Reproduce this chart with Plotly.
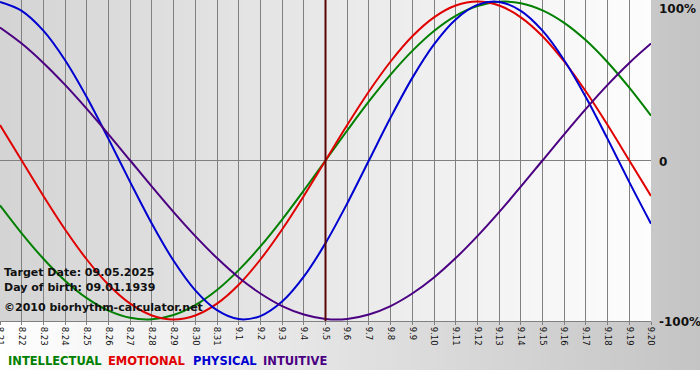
import plotly.graph_objects as go

# ---------------- data ----------------
dates = ["8.21", "8.22", "8.23", "8.24", "8.25", "8.26", "8.27", "8.28", "8.29", "8.30", "8.31",
         "9.1", "9.2", "9.3", "9.4", "9.5", "9.6", "9.7", "9.8", "9.9", "9.10",
         "9.11", "9.12", "9.13", "9.14", "9.15", "9.16", "9.17", "9.18", "9.19", "9.20"]

intellectual = [-28.2, -45.8, -61.8, -75.6, -86.6, -94.5, -99.0, -99.9, -97.2, -91.0, -81.5,
                -69.0, -54.1, -37.2, -18.9, 0.0, 18.9, 37.2, 54.1, 69.0, 81.5,
                91.0, 97.2, 99.9, 99.0, 94.5, 86.6, 75.6, 61.8, 45.8, 28.2]
emotional = [22.3, 0.0, -22.3, -43.4, -62.3, -78.2, -90.1, -97.5, -100.0, -97.5, -90.1,
             -78.2, -62.3, -43.4, -22.3, 0.0, 22.3, 43.4, 62.3, 78.2, 90.1,
             97.5, 100.0, 97.5, 90.1, 78.2, 62.3, 43.4, 22.3, 0.0, -22.3]
physical = [99.8, 94.2, 81.7, 63.1, 39.8, 13.6, -13.6, -39.8, -63.1, -81.7, -94.2,
            -99.8, -97.9, -88.8, -73.1, -52.0, -27.0, 0.0, 27.0, 52.0, 73.1,
            88.8, 97.9, 99.8, 94.2, 81.7, 63.1, 39.8, 13.6, -13.6, -39.8]
intuitive = [83.7, 73.6, 61.4, 47.6, 32.5, 16.5, 0.0, -16.5, -32.5, -47.6, -61.4,
             -73.6, -83.7, -91.6, -96.9, -99.7, -99.7, -96.9, -91.6, -83.7, -73.6,
             -61.4, -47.6, -32.5, -16.5, 0.0, 16.5, 32.5, 47.6, 61.4, 73.6]

series_names = ["INTELLECTUAL", "EMOTIONAL", "PHYSICAL", "INTUITIVE"]
target_date = "9.5"
info_lines = ["Target Date: 09.05.2025", "Day of birth: 09.01.1939", "©2010 biorhythm-calculator.net"]
y_label_vals = [100, 0, -100]
y_label_text = ["100%", "0", "-100%"]

# ---------------- styling ----------------
W, H = 700, 380
ML, MR, MT, MB = 0, 49, 0, 59
PW, PH = W - ML - MR, H - MT - MB
colors = ["#008000", "#e00000", "#0000d0", "#4b0082"]
FONT = "DejaVu Sans"


def px_x(px):
    return (px - ML) / PW


def px_y(py):
    return (MT + PH - py) / PH


fig = go.Figure()

xs = list(range(len(dates)))
for name, vals, col in zip(series_names, [intellectual, emotional, physical, intuitive], colors):
    fig.add_trace(go.Scatter(x=xs, y=vals, mode="lines", name=name,
                             line=dict(color=col, width=2, shape="spline", smoothing=1.0),
                             hoverinfo="skip", showlegend=False, cliponaxis=False))

shapes = []
# canvas gradient (white -> gray), y 0..370
step = 5
for i in range(0, W, step):
    v = round(255 - 59 * (i + step / 2) / W)
    shapes.append(dict(type="rect", xref="paper", yref="paper",
                       x0=px_x(i), x1=px_x(min(i + step + 1, W)),
                       y0=px_y(370), y1=px_y(0),
                       fillcolor=f"rgb({v},{v},{v})", line=dict(width=0), layer="below"))
# plot area gradient (gray -> near white)
for i in range(0, PW, step):
    v = round(212 + 41 * (i + step / 2) / PW)
    shapes.append(dict(type="rect", xref="paper", yref="paper",
                       x0=px_x(i), x1=px_x(min(i + step + 1, PW)),
                       y0=0, y1=1,
                       fillcolor=f"rgb({v},{v},{v})", line=dict(width=0), layer="below"))
# target date line
tx = dates.index(target_date)
shapes.append(dict(type="line", xref="x", yref="paper", x0=tx, x1=tx, y0=0, y1=1,
                   line=dict(color="#5a0505", width=2), layer="above"))

annotations = []
# info text
for txt, py in zip(info_lines, [272, 287, 307]):
    annotations.append(dict(text=f"<b>{txt}</b>", xref="paper", yref="paper",
                            x=px_x(2), y=px_y(py), xanchor="left", yanchor="middle",
                            showarrow=False, font=dict(family=FONT, size=11, color="#111111")))
# right-hand percent labels
for val, txt, ys in zip(y_label_vals, y_label_text, [-7, -1.5, -2.5]):
    annotations.append(dict(text=f"<b>{txt}</b>", xref="paper", yref="y",
                            x=px_x(657), y=val, yshift=ys, xanchor="left", yanchor="middle",
                            showarrow=False, font=dict(family=FONT, size=12, color="#111111")))
# legend labels
for name, col, lx in zip(series_names, colors, [6, 106, 191, 261]):
    annotations.append(dict(text=f"<b>{name}</b>", xref="paper", yref="paper",
                            x=px_x(lx), y=px_y(361), xanchor="left", yanchor="middle",
                            showarrow=False, font=dict(family=FONT, size=11.5, color=col)))

fig.update_layout(
    width=W, height=H,
    margin=dict(l=ML, r=MR, t=MT, b=MB, pad=0, autoexpand=False),
    paper_bgcolor="#ffffff", plot_bgcolor="rgba(0,0,0,0)",
    shapes=shapes, annotations=annotations,
    showlegend=False,
    xaxis=dict(range=[0, len(dates) - 1], tickmode="array", tickvals=xs, ticktext=dates,
               tickangle=90, ticks="outside", ticklen=3, tickcolor="#808080", tickwidth=1,
               tickfont=dict(family=FONT, size=8.5, color="#111111"), automargin=False,
               ticklabeloverflow="allow",
               showgrid=True, gridcolor="#808080", gridwidth=1, zeroline=False,
               showline=True, linecolor="#808080", linewidth=1, mirror=True, fixedrange=True),
    yaxis=dict(range=[-101, 101], showgrid=False, zeroline=True, zerolinecolor="#808080",
               zerolinewidth=1, showticklabels=False, ticks="", showline=False,
               automargin=False, fixedrange=True),
)

fig.write_html("out.html", config={"displayModeBar": False, "staticPlot": True},
               post_script="document.body.style.margin='0';document.body.style.padding='0';")
